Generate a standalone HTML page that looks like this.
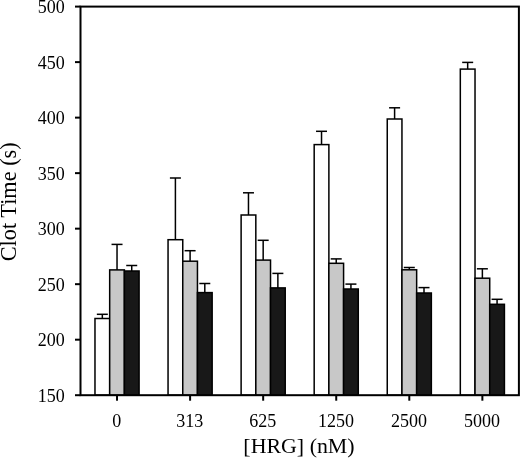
<!DOCTYPE html>
<html><head><meta charset="utf-8"><style>
html,body{margin:0;padding:0;background:#fff;}
svg{display:block;}
.t{font-family:"Liberation Serif",serif;font-size:18px;fill:#000;}
.ti{font-family:"Liberation Serif",serif;font-size:21.9px;fill:#000;}
.a{stroke:#000;stroke-width:2;fill:none;}
.b{stroke:#000;stroke-width:1.5;}
.e{stroke:#000;stroke-width:1.5;}
</style></head><body>
<svg width="520" height="458" viewBox="0 0 520 458">
<rect width="520" height="458" fill="#fff"/>
<line x1="102.33" y1="318.50" x2="102.33" y2="314.30" class="e"/>
<line x1="96.83" y1="314.30" x2="107.83" y2="314.30" class="e"/>
<rect x="94.98" y="318.50" width="14.70" height="76.70" fill="#ffffff" class="b"/>
<line x1="117.03" y1="269.90" x2="117.03" y2="244.40" class="e"/>
<line x1="111.53" y1="244.40" x2="122.53" y2="244.40" class="e"/>
<rect x="109.68" y="269.90" width="14.70" height="125.30" fill="#c8c8c8" class="b"/>
<line x1="131.73" y1="271.00" x2="131.73" y2="265.50" class="e"/>
<line x1="126.23" y1="265.50" x2="137.23" y2="265.50" class="e"/>
<rect x="124.38" y="271.00" width="14.70" height="124.20" fill="#181818" class="b"/>
<line x1="117.03" y1="395.20" x2="117.03" y2="400.70" class="a"/>
<text x="116.73" y="426.9" text-anchor="middle" class="t">0</text>
<line x1="175.40" y1="239.70" x2="175.40" y2="178.00" class="e"/>
<line x1="169.90" y1="178.00" x2="180.90" y2="178.00" class="e"/>
<rect x="168.05" y="239.70" width="14.70" height="155.50" fill="#ffffff" class="b"/>
<line x1="190.10" y1="261.20" x2="190.10" y2="250.70" class="e"/>
<line x1="184.60" y1="250.70" x2="195.60" y2="250.70" class="e"/>
<rect x="182.75" y="261.20" width="14.70" height="134.00" fill="#c8c8c8" class="b"/>
<line x1="204.80" y1="292.60" x2="204.80" y2="283.50" class="e"/>
<line x1="199.30" y1="283.50" x2="210.30" y2="283.50" class="e"/>
<rect x="197.45" y="292.60" width="14.70" height="102.60" fill="#181818" class="b"/>
<line x1="190.10" y1="395.20" x2="190.10" y2="400.70" class="a"/>
<text x="189.80" y="426.9" text-anchor="middle" class="t">313</text>
<line x1="248.47" y1="215.00" x2="248.47" y2="192.80" class="e"/>
<line x1="242.97" y1="192.80" x2="253.97" y2="192.80" class="e"/>
<rect x="241.12" y="215.00" width="14.70" height="180.20" fill="#ffffff" class="b"/>
<line x1="263.17" y1="260.10" x2="263.17" y2="240.30" class="e"/>
<line x1="257.67" y1="240.30" x2="268.67" y2="240.30" class="e"/>
<rect x="255.82" y="260.10" width="14.70" height="135.10" fill="#c8c8c8" class="b"/>
<line x1="277.87" y1="287.90" x2="277.87" y2="273.40" class="e"/>
<line x1="272.37" y1="273.40" x2="283.37" y2="273.40" class="e"/>
<rect x="270.52" y="287.90" width="14.70" height="107.30" fill="#181818" class="b"/>
<line x1="263.17" y1="395.20" x2="263.17" y2="400.70" class="a"/>
<text x="262.87" y="426.9" text-anchor="middle" class="t">625</text>
<line x1="321.53" y1="144.60" x2="321.53" y2="131.30" class="e"/>
<line x1="316.03" y1="131.30" x2="327.03" y2="131.30" class="e"/>
<rect x="314.18" y="144.60" width="14.70" height="250.60" fill="#ffffff" class="b"/>
<line x1="336.23" y1="263.30" x2="336.23" y2="258.90" class="e"/>
<line x1="330.73" y1="258.90" x2="341.73" y2="258.90" class="e"/>
<rect x="328.88" y="263.30" width="14.70" height="131.90" fill="#c8c8c8" class="b"/>
<line x1="350.93" y1="289.00" x2="350.93" y2="284.10" class="e"/>
<line x1="345.43" y1="284.10" x2="356.43" y2="284.10" class="e"/>
<rect x="343.58" y="289.00" width="14.70" height="106.20" fill="#181818" class="b"/>
<line x1="336.23" y1="395.20" x2="336.23" y2="400.70" class="a"/>
<text x="335.93" y="426.9" text-anchor="middle" class="t">1250</text>
<line x1="394.60" y1="119.00" x2="394.60" y2="107.80" class="e"/>
<line x1="389.10" y1="107.80" x2="400.10" y2="107.80" class="e"/>
<rect x="387.25" y="119.00" width="14.70" height="276.20" fill="#ffffff" class="b"/>
<line x1="409.30" y1="269.80" x2="409.30" y2="267.50" class="e"/>
<line x1="403.80" y1="267.50" x2="414.80" y2="267.50" class="e"/>
<rect x="401.95" y="269.80" width="14.70" height="125.40" fill="#c8c8c8" class="b"/>
<line x1="424.00" y1="293.00" x2="424.00" y2="287.60" class="e"/>
<line x1="418.50" y1="287.60" x2="429.50" y2="287.60" class="e"/>
<rect x="416.65" y="293.00" width="14.70" height="102.20" fill="#181818" class="b"/>
<line x1="409.30" y1="395.20" x2="409.30" y2="400.70" class="a"/>
<text x="409.00" y="426.9" text-anchor="middle" class="t">2500</text>
<line x1="467.67" y1="69.10" x2="467.67" y2="62.40" class="e"/>
<line x1="462.17" y1="62.40" x2="473.17" y2="62.40" class="e"/>
<rect x="460.32" y="69.10" width="14.70" height="326.10" fill="#ffffff" class="b"/>
<line x1="482.37" y1="278.20" x2="482.37" y2="268.80" class="e"/>
<line x1="476.87" y1="268.80" x2="487.87" y2="268.80" class="e"/>
<rect x="475.02" y="278.20" width="14.70" height="117.00" fill="#c8c8c8" class="b"/>
<line x1="497.07" y1="304.30" x2="497.07" y2="299.30" class="e"/>
<line x1="491.57" y1="299.30" x2="502.57" y2="299.30" class="e"/>
<rect x="489.72" y="304.30" width="14.70" height="90.90" fill="#181818" class="b"/>
<line x1="482.37" y1="395.20" x2="482.37" y2="400.70" class="a"/>
<text x="482.07" y="426.9" text-anchor="middle" class="t">5000</text>
<line x1="75.00" y1="395.20" x2="80.50" y2="395.20" class="a"/>
<text x="64.8" y="401.80" text-anchor="end" class="t">150</text>
<line x1="75.00" y1="339.69" x2="80.50" y2="339.69" class="a"/>
<text x="64.8" y="346.29" text-anchor="end" class="t">200</text>
<line x1="75.00" y1="284.17" x2="80.50" y2="284.17" class="a"/>
<text x="64.8" y="290.77" text-anchor="end" class="t">250</text>
<line x1="75.00" y1="228.66" x2="80.50" y2="228.66" class="a"/>
<text x="64.8" y="235.26" text-anchor="end" class="t">300</text>
<line x1="75.00" y1="173.14" x2="80.50" y2="173.14" class="a"/>
<text x="64.8" y="179.74" text-anchor="end" class="t">350</text>
<line x1="75.00" y1="117.63" x2="80.50" y2="117.63" class="a"/>
<text x="64.8" y="124.23" text-anchor="end" class="t">400</text>
<line x1="75.00" y1="62.11" x2="80.50" y2="62.11" class="a"/>
<text x="64.8" y="68.71" text-anchor="end" class="t">450</text>
<line x1="75.00" y1="6.60" x2="80.50" y2="6.60" class="a"/>
<text x="64.8" y="13.20" text-anchor="end" class="t">500</text>
<rect x="80.5" y="6.6" width="438.40" height="388.60" fill="none" class="a"/>
<text x="299.0" y="453.3" text-anchor="middle" class="ti">[HRG] (nM)</text>
<text transform="translate(15.6,201.8) rotate(-90)" text-anchor="middle" class="ti" style="font-size:22.3px">Clot Time (s)</text>
</svg>
</body></html>
